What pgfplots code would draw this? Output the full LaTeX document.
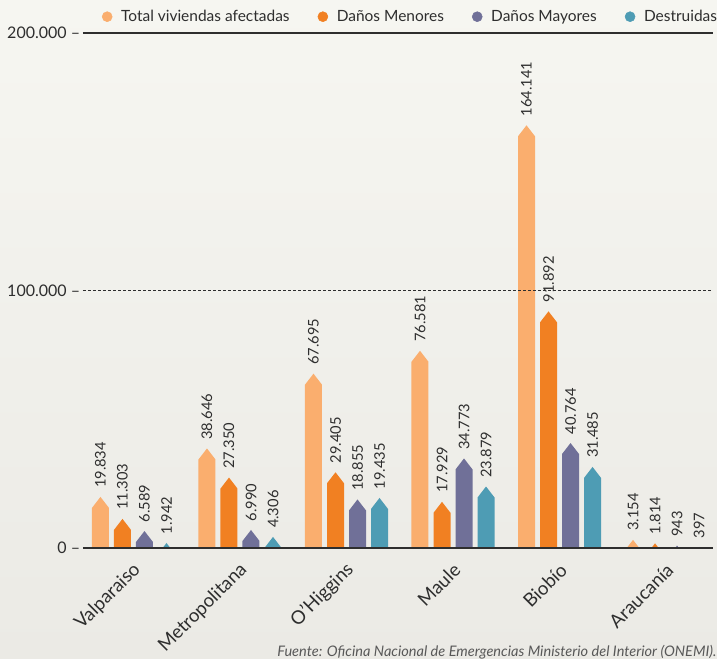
\documentclass[border=0pt]{standalone}
\usepackage{pgfplots}
\pgfplotsset{compat=1.18}
\usepackage{pgfplotstable}
\usepackage{fontspec}
\setmainfont{Lato}
\definecolor{cTot}{HTML}{FAAE6E}
\definecolor{cMen}{HTML}{F18022}
\definecolor{cMay}{HTML}{707098}
\definecolor{cDes}{HTML}{4E9CB4}
\definecolor{txt}{HTML}{2E2E2E}
\definecolor{bgtop}{HTML}{F6F6F1}
\definecolor{bgbot}{HTML}{EBEAE5}
\pgfdeclareplotmark{house}{%
  \pgfpathmoveto{\pgfpoint{0pt}{0pt}}%
  \pgfpathlineto{\pgfpoint{6.375pt}{-8.25pt}}%
  \pgfpathlineto{\pgfpoint{6.375pt}{-500pt}}%
  \pgfpathlineto{\pgfpoint{-6.375pt}{-500pt}}%
  \pgfpathlineto{\pgfpoint{-6.375pt}{-8.25pt}}%
  \pgfpathclose\pgfusepathqfill}
\pgfplotstableread{
i total menores mayores destruidas
0 19834 11303 6589 1942
1 38646 27350 6990 4306
2 67695 29405 18855 19435
3 76581 17929 34773 23879
4 164141 91892 40764 31485
5 3154 1814 943 397
}\datatable
\begin{document}
\begin{tikzpicture}
\useasboundingbox (0pt,0pt) rectangle (537.75pt,494.25pt);
\shade[top color=bgtop,bottom color=bgbot] (0pt,0pt) rectangle (537.75pt,494.25pt);
\begin{axis}[
  at={(62.25pt,83.25pt)}, anchor=south west,
  scale only axis, width=472.5pt, height=386.25pt,
  xmin=-0.474, xmax=5.441, ymin=0, ymax=200000,
  scaled y ticks=false,
  axis on top,
  axis line style={draw=none}, major tick length=0pt,
  xtick={0,...,5},
  xticklabels={Valparaiso,Metropolitana,O'Higgins,Maule,Biobío,Araucanía},
  xticklabel style={rotate=45, anchor=east, font=\fontsize{14}{16}\selectfont, text=txt, inner sep=2pt, xshift=-5.8pt, yshift=-12.2pt},
  ytick={0,200000},
  yticklabels={0~–,200.000~–},
  extra y ticks={100000},
  extra y tick labels={100.000~–},
  extra y tick style={grid style={dash pattern=on 2.25pt off 1.5pt, line width=0.7pt, draw=txt}},
  yticklabel style={font=\fontsize{12}{14}\selectfont, text=txt, anchor=east, inner sep=2pt},
  ymajorgrids, grid style={draw=txt, line width=1.1pt},
  clip marker paths=true,
  only marks,
  /pgf/number format/.cd, fixed, precision=0, 1000 sep={.}, assume math mode=true, /pgfplots/.cd,
  nodes near coords,
  every node near coord/.append style={rotate=90, anchor=west, font=\fontsize{11}{13}\selectfont, text=txt, inner sep=0pt, xshift=6.5pt},
  legend columns=4,
  legend style={draw=none, fill=none, at={(rel axis cs:0,1)}, anchor=south west, xshift=11pt, yshift=3pt, font=\fontsize{11.6}{13}\selectfont, text=txt,
    /tikz/every odd column/.append style={column sep=4.5pt},
    /tikz/every even column/.append style={column sep=19pt}},
]
\addlegendimage{legend image code/.code={\fill[cTot] (0.15cm,0) circle (3.75pt);}}
\addlegendentry{Total viviendas afectadas}
\addlegendimage{legend image code/.code={\fill[cMen] (0.15cm,0) circle (3.75pt);}}
\addlegendentry{Daños Menores}
\addlegendimage{legend image code/.code={\fill[cMay] (0.15cm,0) circle (3.75pt);}}
\addlegendentry{Daños Mayores}
\addlegendimage{legend image code/.code={\fill[cDes] (0.15cm,0) circle (3.75pt);}}
\addlegendentry{Destruidas}
\addplot[forget plot, mark=house, mark options={fill=cTot, draw=none}] table[x expr=\thisrow{i}-0.31, y=total] {\datatable};
\addplot[forget plot, mark=house, mark options={fill=cMen, draw=none}] table[x expr=\thisrow{i}-0.1033, y=menores] {\datatable};
\addplot[forget plot, mark=house, mark options={fill=cMay, draw=none}] table[x expr=\thisrow{i}+0.1033, y=mayores] {\datatable};
\addplot[forget plot, mark=house, mark options={fill=cDes, draw=none}] table[x expr=\thisrow{i}+0.31, y=destruidas] {\datatable};
\end{axis}
\node[anchor=base east, inner sep=0pt, font=\itshape\fontsize{10.9}{12}\selectfont, text=txt!80] at (537.5pt,2pt) {Fuente: Oficina Nacional de Emergencias Ministerio del Interior (ONEMI).};
\end{tikzpicture}
\end{document}
